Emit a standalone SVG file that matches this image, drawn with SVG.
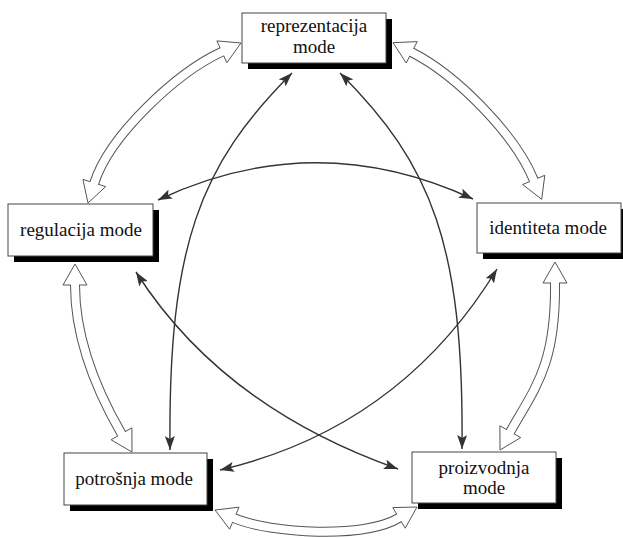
<svg xmlns="http://www.w3.org/2000/svg" width="623" height="538" viewBox="0 0 623 538">
<style>
.box{fill:#fff;stroke:#444;stroke-width:1}
.shadow{fill:#000}
.lbl{font-family:"Liberation Serif","Times New Roman",serif;font-size:19px;fill:#111;text-anchor:middle}
.curve{fill:none;stroke:#333;stroke-width:1.4;marker-start:url(#ah);marker-end:url(#ah)}
.shaftO{fill:none;stroke:#555;stroke-width:10}
.shaftI{fill:none;stroke:#fff;stroke-width:8}
.head{fill:#fff;stroke:#555;stroke-width:1;stroke-linejoin:miter}
</style>
<defs>
<marker id="ah" viewBox="0 0 14 10" refX="14" refY="5" markerWidth="14" markerHeight="10" markerUnits="userSpaceOnUse" orient="auto-start-reverse">
<path d="M0,0 L14,5 L0,10 L3,5 z" fill="#333"/>
</marker>
</defs>
<rect width="623" height="538" fill="#fff"/>

<g id="connectors">
  <!-- hollow double arrows: outer shaft -->
  <g id="hollow-arrows">
    <path id="h1o" class="shaftO" d="M93.4,185.9 L94.3,183 C109.3,135.5 176.4,72.8 221.9,51.8 L224.6,50.5"/>
    <path id="h2o" class="shaftO" d="M409,50.9 L411.7,52.3 C456.2,75 514.7,133.6 533.7,179.9 L534.8,182.7"/>
    <path id="h3o" class="shaftO" d="M75,282 L75,285 C75,338 96.5,390.5 121.5,433.8 L123,436.4"/>
    <path id="h4o" class="shaftO" d="M555,280 L555,283 C556,365 534.8,388.2 510.3,431.7 L508.8,434.3"/>
    <path id="h5o" class="shaftO" d="M231.5,517 L234.3,518.2 C271.1,533.8 364.8,538.6 399,517.9 L401.6,516.3"/>
    <polygon class="head" points="88,203 105.7,186.6 82.9,179.4"/>
    <polygon class="head" points="241,43 226.9,62.7 216.9,40.9"/>
    <polygon class="head" points="393,42.7 417.2,41.6 406.2,63"/>
    <polygon class="head" points="541.7,199.3 544.8,175.3 522.6,184.5"/>
    <polygon class="head" points="75,264 63,285 87,285"/>
    <polygon class="head" points="132,452 131.9,427.8 111.1,439.8"/>
    <polygon class="head" points="555,262 543,283 567,283"/>
    <polygon class="head" points="500,450 520.7,437.6 499.9,425.8"/>
    <polygon class="head" points="215,510 239,507.2 229.6,529.2"/>
    <polygon class="head" points="417,507 405.2,528.2 392.8,507.6"/>
    <path class="shaftI" d="M93.4,185.9 L94.3,183 C109.3,135.5 176.4,72.8 221.9,51.8 L224.6,50.5"/>
    <path class="shaftI" d="M409,50.9 L411.7,52.3 C456.2,75 514.7,133.6 533.7,179.9 L534.8,182.7"/>
    <path class="shaftI" d="M75,282 L75,285 C75,338 96.5,390.5 121.5,433.8 L123,436.4"/>
    <path class="shaftI" d="M555,280 L555,283 C556,365 534.8,388.2 510.3,431.7 L508.8,434.3"/>
    <path class="shaftI" d="M231.5,517 L234.3,518.2 C271.1,533.8 364.8,538.6 399,517.9 L401.6,516.3"/>
  </g>
  <!-- thin double-headed curves -->
  <g id="thin-arrows">
    <path class="curve" d="M292,73 C200,165 168,245 170,450"/>
    <path class="curve" d="M340,73 C432,165 464,245 462,449"/>
    <path class="curve" d="M158,200 Q315,126 473,199"/>
    <path class="curve" d="M136,272 Q222,407 398,469"/>
    <path class="curve" d="M497,269 Q400,428 220,470"/>
  </g>
</g>

<g id="reprezentacija">
  <rect class="shadow" x="248" y="19" width="144" height="50"/>
  <rect class="box" x="242" y="13" width="144" height="50"/>
  <text class="lbl" x="314" y="32">reprezentacija</text>
  <text class="lbl" x="314" y="53">mode</text>
</g>
<g id="regulacija">
  <rect class="shadow" x="14" y="210" width="145" height="52"/>
  <rect class="box" x="8" y="204" width="145" height="52"/>
  <text class="lbl" x="81" y="236">regulacija mode</text>
</g>
<g id="identiteta">
  <rect class="shadow" x="483" y="209" width="144" height="50"/>
  <rect class="box" x="477" y="203" width="144" height="50"/>
  <text class="lbl" x="548" y="234">identiteta mode</text>
</g>
<g id="potrosnja">
  <rect class="shadow" x="70" y="459" width="143" height="52"/>
  <rect class="box" x="64" y="453" width="143" height="52"/>
  <text class="lbl" x="134" y="485">potrošnja mode</text>
</g>
<g id="proizvodnja">
  <rect class="shadow" x="418" y="458" width="144" height="51"/>
  <rect class="box" x="412" y="452" width="144" height="51"/>
  <text class="lbl" x="484" y="474">proizvodnja</text>
  <text class="lbl" x="484" y="494">mode</text>
</g>
</svg>
